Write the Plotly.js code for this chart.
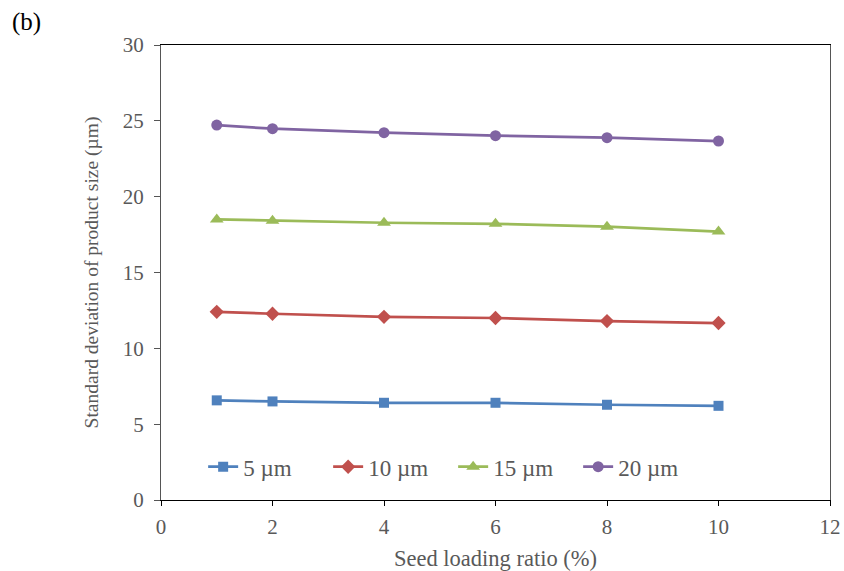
<!DOCTYPE html>
<html>
<head>
<meta charset="utf-8">
<script src="https://cdn.plot.ly/plotly-3.0.1.min.js"></script>
<style>body{margin:0;background:#fff}#chart{width:844px;height:571px}</style>
</head>
<body>
<div id="chart"></div>
<script>
const seedRatio = [1, 2, 4, 6, 8, 10];
const sd5 = [6.57, 6.50, 6.41, 6.41, 6.28, 6.21];
const sd10 = [12.41, 12.28, 12.08, 12.00, 11.80, 11.67];
const sd15 = [18.50, 18.42, 18.28, 18.21, 18.02, 17.70];
const sd20 = [24.72, 24.48, 24.22, 24.02, 23.89, 23.67];
const seriesNames = ['5 µm', '10 µm', '15 µm', '20 µm'];

const colors = ['#4F81BD', '#C0504D', '#9BBB59', '#8064A2'];
const symbols = ['square', 'diamond', 'triangle-up', 'circle'];
const sizes = [10, 11, 12, 11];
const ys = [sd5, sd10, sd15, sd20];

const traces = ys.map((y, i) => ({
  x: seedRatio, y: y, name: seriesNames[i], type: 'scatter', mode: 'lines+markers',
  line: {color: colors[i], width: 2.75},
  marker: {symbol: symbols[i], size: sizes[i], color: colors[i]}
}));

const fam = '"Liberation Serif", "Times New Roman", serif';
const layout = {
  width: 844, height: 571,
  margin: {l: 161, r: 14, t: 45, b: 71},
  paper_bgcolor: '#fff', plot_bgcolor: '#fff',
  font: {family: fam, size: 20, color: '#595959'},
  showlegend: true,
  legend: {orientation: 'h', x: 0.063, xanchor: 'left', y: 0.073, yanchor: 'middle',
    entrywidth: 80, entrywidthmode: 'pixels',
    font: {family: fam, size: 23, color: '#595959'}, bgcolor: 'rgba(0,0,0,0)', traceorder: 'normal'},
  xaxis: {range: [0, 12], dtick: 2, tick0: 0, showgrid: false, zeroline: false,
    showline: true, linecolor: '#000', linewidth: 1.3, mirror: true,
    ticks: 'outside', ticklen: 5, tickcolor: '#000', ticklabelstandoff: 3,
    tickfont: {family: fam, size: 21, color: '#595959'},
    title: {text: 'Seed loading ratio (%)', font: {family: fam, size: 22.5, color: '#595959'}, standoff: 11}},
  yaxis: {range: [0, 30], dtick: 5, tick0: 0, showgrid: false, zeroline: false,
    showline: true, linecolor: '#555', linewidth: 1.3, mirror: true,
    ticks: 'outside', ticklen: 6, tickcolor: '#555', ticklabelstandoff: 6,
    tickfont: {family: fam, size: 21, color: '#595959'},
    title: {text: 'Standard deviation of product size (µm)', font: {family: fam, size: 19.5, color: '#595959'}, standoff: 18}},
  annotations: [{text: '(b)', xref: 'paper', yref: 'paper', x: -0.226, y: 1.05, xanchor: 'left', yanchor: 'middle',
    showarrow: false, font: {family: fam, size: 25, color: '#000'}}]
};
Plotly.newPlot('chart', traces, layout, {displayModeBar: false});
</script>
</body>
</html>
